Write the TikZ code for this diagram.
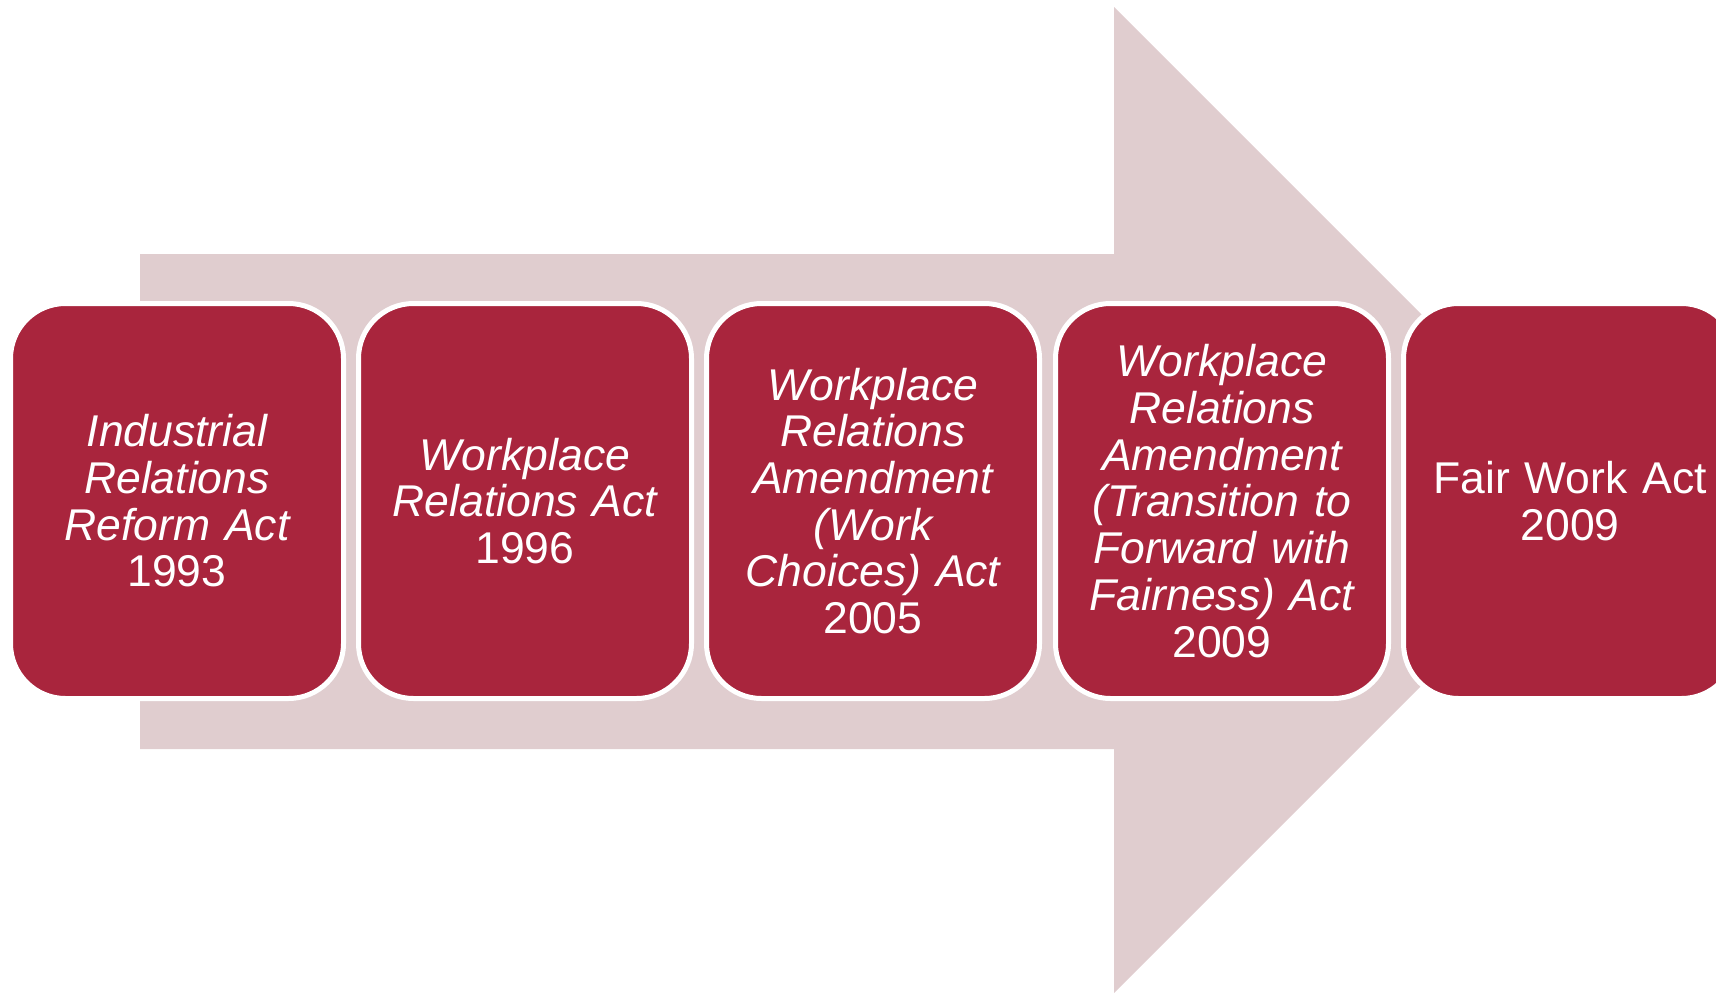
\documentclass[tikz,border=0pt]{standalone}
\usepackage{fontspec}
\setmainfont{Liberation Sans}
\definecolor{actred}{RGB}{169,37,61}
\definecolor{arrowpink}{RGB}{224,205,207}
\tikzset{
  actbox/.style={rectangle, rounded corners=55pt, fill=actred, draw=white, line width=5pt,
    minimum width=333pt, minimum height=395pt, inner sep=0pt, text width=320pt, align=center,
    text=white, font=\fontsize{44.5}{46.7}\selectfont}
}
\begin{document}
\begin{tikzpicture}[x=1pt,y=-1pt]
\useasboundingbox (0,0) rectangle (1716,993);
\clip (0,0) rectangle (1716,993);
\fill[arrowpink] (140,254) -- (1114,254) -- (1114,7) -- (1607,500) -- (1114,993) -- (1114,749) -- (140,749) -- cycle;
\node[actbox] (b1) at (177,501) {\itshape Industrial\\Relations\\Reform Act\\\upshape 1993};
\node[actbox] (b2) at (525,501) {\itshape Workplace\\Relations Act\\\upshape 1996};
\node[actbox] (b3) at (873,501) {\itshape Workplace\\Relations\\Amendment\\(Work\\Choices) Act\\\upshape 2005};
\node[actbox] (b4) at (1222,501) {\itshape Workplace\\Relations\\Amendment\\(Transition to\\Forward with\\Fairness) Act\\\upshape 2009};
\node[actbox] (b5) at (1570,501) {Fair Work Act\\2009};
\end{tikzpicture}
\end{document}
